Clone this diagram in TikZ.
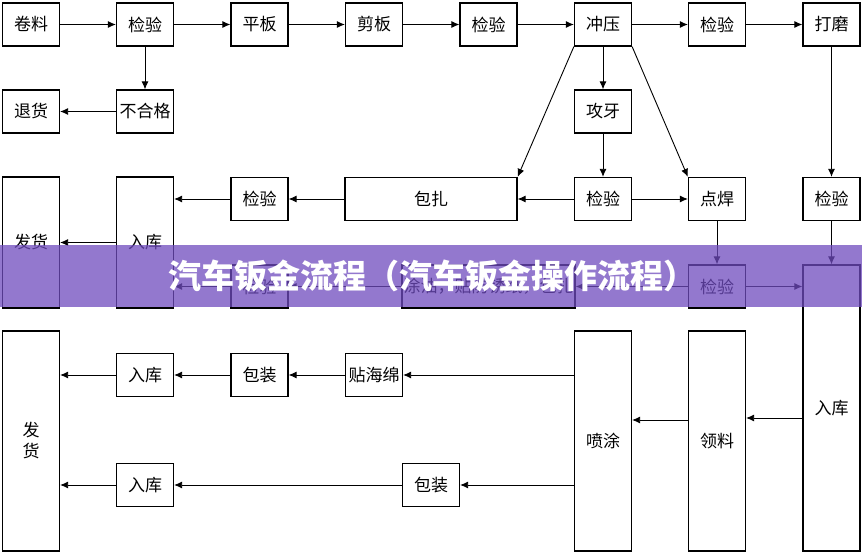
\documentclass[tikz,border=0pt]{standalone}
\usepackage{fontspec}
\newfontfamily\cjk{Noto Sans CJK SC}
\usepackage{tikz}
\usetikzlibrary{arrows.meta,calc}

\tikzset{
  box/.style={draw, line width=1.3pt, minimum width=57pt, minimum height=43pt, inner sep=0pt,
    font=\cjk\fontsize{17}{21}\selectfont, align=center},
  flow/.style={line width=0.9pt, -{Latex[length=8pt,width=7pt]}},
  link/.style={line width=0.9pt}
}

\begin{document}
\begin{tikzpicture}[x=1pt,y=-1pt]
        \useasboundingbox (0,0) rectangle (862,553);
        \node [box] (juanliao) at (31,24.5) {卷料};
        \node [box] (jianyan1) at (145,24.5) {检验};
        \node [box] (pingban) at (259.5,24.5) {平板};
        \node [box] (jianban) at (374,24.5) {剪板};
        \node [box] (jianyan2) at (488.5,24.5) {检验};
        \node [box] (chongya) at (603,24.5) {冲压};
        \node [box] (jianyan3) at (717,24.5) {检验};
        \node [box] (damo) at (831.5,24.5) {打磨};
        \node [box] (tuihuo) at (31,111.5) {退货};
        \node [box] (buhege) at (145,111.5) {不合格};
        \node [box] (gongya) at (603,111.5) {攻牙};
        \node [box, minimum height=131pt] (fahuo1) at (31,242.5) {发货};
        \node [box, minimum height=131pt] (ruku1) at (145,242.5) {入库};
        \node [box] (jianyan4) at (259.5,199) {检验};
        \node [box, minimum width=172pt] (baozha) at (431,199) {包扎};
        \node [box] (jianyan5) at (603,199) {检验};
        \node [box] (dianhan) at (717,199) {点焊};
        \node [box] (jianyan6) at (831.5,199) {检验};
        \node [box] (jianyan7) at (259.5,286.5) {检验};
        \node [box, minimum width=173pt] (tuyou) at (488.5,286.5) {涂油，贴防锈纸，包扎};
        \node [box] (jianyan8) at (717,286.5) {检验};
        \node [box, minimum height=286pt] (ruku2) at (831.5,408) {入库};
        \node [box, minimum height=220pt] (fahuo2) at (31,441) {发\\货};
        \node [box] (ruku3) at (145,375) {入库};
        \node [box] (baozhuang1) at (259.5,375) {包装};
        \node [box] (tiehaimian) at (374,375) {贴海绵};
        \node [box, minimum height=220pt] (pentu) at (603,441) {喷涂};
        \node [box, minimum height=220pt] (lingliao) at (717,441) {领料};
        \node [box] (ruku4) at (145,485) {入库};
        \node [box] (baozhuang2) at (431,485) {包装};

        \draw [flow] (juanliao) -- (jianyan1);
        \draw [flow] (jianyan1) -- (pingban);
        \draw [flow] (pingban) -- (jianban);
        \draw [flow] (jianban) -- (jianyan2);
        \draw [flow] (jianyan2) -- (chongya);
        \draw [flow] (chongya) -- (jianyan3);
        \draw [flow] (jianyan3) -- (damo);
        \draw [flow] (jianyan1) -- (buhege);
        \draw [flow] (buhege) -- (tuihuo);
        \draw [flow] (chongya) -- (gongya);
        \draw [flow] (chongya.south west) -- (baozha.north east);
        \draw [flow] (chongya.south east) -- (dianhan.north west);
        \draw [flow] (gongya) -- (jianyan5);
        \draw [flow] (jianyan5) -- (baozha);
        \draw [flow] (jianyan5) -- (dianhan);
        \draw [flow] (baozha) -- (jianyan4);
        \draw [flow] (jianyan4.west) -- (jianyan4.west -| ruku1.east);
        \draw [flow] (ruku1) -- (fahuo1);
        \draw [flow] (damo) -- (jianyan6);
        \draw [flow] (dianhan) -- (jianyan8);
        \draw [flow] (jianyan6) -- (ruku2);
        \draw [flow] (jianyan8.east) -- (jianyan8.east -| ruku2.west);
        \draw [flow] (jianyan8) -- (tuyou);
        \draw [flow] (tuyou) -- (jianyan7);
        \draw [flow] (jianyan7.west) -- (jianyan7.west -| ruku1.east);
        \draw [flow] (ruku2.west |- 0,418) -- (lingliao.east |- 0,418);
        \draw [flow] (lingliao.west |- 0,420) -- (pentu.east |- 0,420);
        \draw [flow] (pentu.west |- tiehaimian.east) -- (tiehaimian.east);
        \draw [flow] (tiehaimian) -- (baozhuang1);
        \draw [flow] (baozhuang1) -- (ruku3);
        \draw [flow] (ruku3.west) -- (ruku3.west -| fahuo2.east);
        \draw [flow] (pentu.west |- baozhuang2.east) -- (baozhuang2.east);
        \draw [flow] (baozhuang2) -- (ruku4);
        \draw [flow] (ruku4.west) -- (ruku4.west -| fahuo2.east);

        \fill [fill={rgb,255:red,111;green,75;blue,190}, opacity=0.75] (0,245) rectangle (862,307);
        \node [text=white, font=\cjk\bfseries\fontsize{33}{33}\selectfont] (title) at (432,276) {汽车钣金流程（汽车钣金操作流程）};
    \end{tikzpicture}
\end{document}
